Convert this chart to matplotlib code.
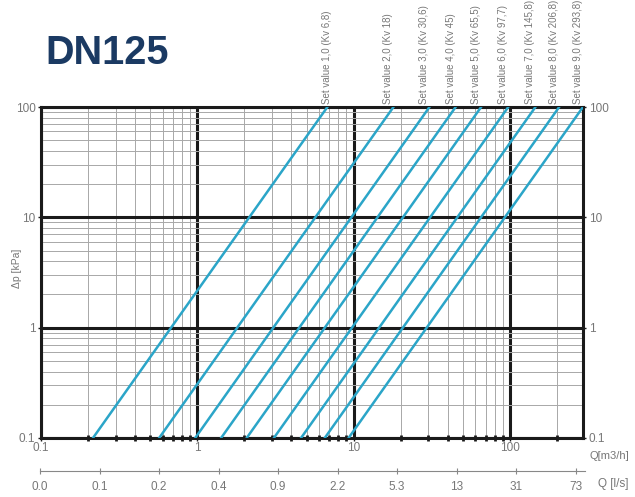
import matplotlib.pyplot as plt
from matplotlib.ticker import LogLocator, NullFormatter, FixedLocator, FixedFormatter

# set values and their Kv
set_values = ["1,0", "2,0", "3,0", "4,0", "5,0", "6,0", "7,0", "8,0", "9,0"]
kv_labels = ["6,8", "18", "30,6", "45", "65,5", "97,7", "145,8", "206,8", "293,8"]

# each line: flow at dp = 0.1 kPa and at dp = 100 kPa
dp_ends = [0.1, 100]
q_low = [0.215, 0.57, 0.97, 1.42, 2.07, 3.09, 4.61, 6.54, 9.29]
q_high = [6.8, 18, 30.6, 45, 65.5, 97.7, 145.8, 206.8, 293.8]

# second axis, flow in l/s (evenly spaced labels)
ls_labels = ["0.0", "0.1", "0.2", "0.4", "0.9", "2.2", "5.3", "13", "31", "73"]

plt.rcParams['font.family'] = ['Liberation Sans', 'DejaVu Sans']
line_col = "#2ba5c8"
txt_col = "#777777"
grid_col = "#a8a8a8"

fig = plt.figure(figsize=(6.35, 4.97), dpi=100)
ax = fig.add_axes([41 / 635, 1 - 438 / 497, 542 / 635, 331 / 497])

ax.set_xscale("log")
ax.set_yscale("log")
ax.set_xlim(0.1, 293.8)
ax.set_ylim(0.1, 100)

# grid
ax.xaxis.set_minor_locator(LogLocator(base=10, subs=range(2, 10)))
ax.yaxis.set_minor_locator(LogLocator(base=10, subs=range(2, 10)))
ax.xaxis.set_minor_formatter(NullFormatter())
ax.yaxis.set_minor_formatter(NullFormatter())
ax.grid(which="minor", color=grid_col, lw=0.7)
ax.grid(which="major", color="#1a1a1a", lw=2.2)
ax.set_axisbelow(True)

for sp in ax.spines.values():
    sp.set_linewidth(2.2)
    sp.set_color("#1a1a1a")

ax.set_xticks([0.1, 1, 10, 100])
ax.set_xticklabels(["0.1", "1", "10", "100"])
ax.set_yticks([0.1, 1, 10, 100])
ax.set_yticklabels(["0.1", "1", "10", "100"])
ax.tick_params(axis="both", which="major", length=2, width=1, colors="#1a1a1a",
               labelcolor=txt_col, labelsize=8.5, pad=1)
ax.tick_params(axis="y", which="major", labelright=True, right=True, pad=2)
ax.tick_params(axis="x", which="minor", direction="inout", length=4, width=2,
               colors="#1a1a1a")
ax.tick_params(axis="y", which="minor", length=0)

fig.text(17 / 635, 1 - 268 / 497, "\u0394p [kPa]", rotation=90, color=txt_col,
         fontsize=7.5, ha="center", va="center")
ax.text(1.012, -0.055, "Q[m3/h]", transform=ax.transAxes, fontsize=8,
        color=txt_col, ha="left", va="center")

# lines
for i in range(len(q_low)):
    ax.plot([q_low[i], q_high[i]], dp_ends, color=line_col, lw=1.8, zorder=3)
    off = 0 if i == 0 else -5
    ax.annotate("Set value %s (Kv %s)" % (set_values[i], kv_labels[i]),
                xy=(q_high[i], 100), xytext=(off, 3), textcoords="offset pixels",
                rotation=90, ha="center", va="bottom", fontsize=7,
                color=txt_col, annotation_clip=False)

# l/s axis
ax2 = fig.add_axes([40 / 635, 1 - 471 / 497, 545 / 635, 0.0001])
ax2.set_xlim(0, 545 / 59.5)
ax2.set_ylim(0, 1)
for s in ["top", "left", "right"]:
    ax2.spines[s].set_visible(False)
ax2.spines["bottom"].set_color("#888888")
ax2.spines["bottom"].set_linewidth(0.8)
ax2.set_yticks([])
ax2.xaxis.set_major_locator(FixedLocator(range(len(ls_labels))))
ax2.xaxis.set_major_formatter(FixedFormatter(ls_labels))
ax2.tick_params(axis="x", direction="inout", length=4, width=0.8, colors="#888888",
                labelcolor=txt_col, labelsize=8.5, pad=5)
fig.text(598 / 635, 1 - 484 / 497, "Q [l/s]", fontsize=8.5, color=txt_col,
         ha="left", va="center")

fig.text(45 / 635, 1 - 53 / 497, "DN125", fontsize=28.5, fontweight="bold",
         color="#1b3a63", ha="left", va="center")

fig.savefig("out.png", dpi=100)
